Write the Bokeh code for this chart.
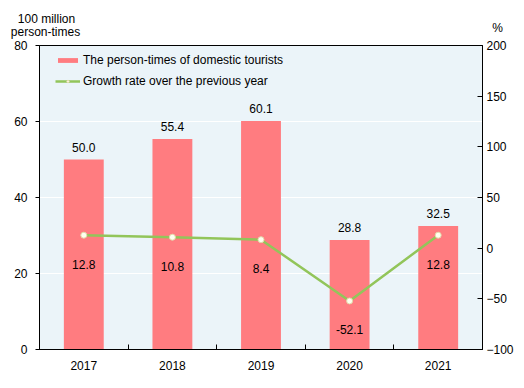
from bokeh.plotting import figure
from bokeh.models import (Range1d, LinearAxis, FixedTicker, ColumnDataSource,
                          LabelSet, Legend, LegendItem)
from bokeh.layouts import column
from bokeh.core.properties import value
from bokeh.embed import file_html
from bokeh.resources import INLINE

years = [2017, 2018, 2019, 2020, 2021]
tourists = [50.0, 55.4, 60.1, 28.8, 32.5]
growth = [12.8, 10.8, 8.4, -52.1, 12.8]
left_ticks = [0, 20, 40, 60, 80]
right_ticks = [-100, -50, 0, 50, 100, 150, 200]
left_title = ["100 million", "person-times"]
right_title = "%"

FONT = "Liberation Sans"
FS = "12px"
BAR = "#FF7C80"
LINE = "#92C55A"
BG = "#EBF4F9"
W = 516
HEAD_H = 40

# ---- header strip carrying the axis titles ----
head = figure(width=W, height=HEAD_H, output_backend="svg", toolbar_location=None,
              x_range=Range1d(0, W), y_range=Range1d(HEAD_H, 0),
              x_axis_type=None, y_axis_type=None, min_border=0)
head.outline_line_color = None
head.background_fill_color = "white"
head.border_fill_color = "white"
head.text(x=[46, 45, 497], y=[18, 31, 27],
          text=[left_title[0], left_title[1], right_title],
          text_align="center", text_baseline="alphabetic",
          text_font=value(FONT), text_font_size=value(FS), text_color="black")

# ---- main chart ----
src = ColumnDataSource(dict(
    year=years, t=tourists, g=growth,
    tlab=[f"{v:.1f}" for v in tourists],
    glab=[f"{v:.1f}" for v in growth],
))

p = figure(width=W, height=340, output_backend="svg", toolbar_location=None,
           x_range=Range1d(2016.5, 2021.5), y_range=Range1d(0, 80),
           min_border_left=39, min_border_right=33, min_border_top=5,
           min_border_bottom=31)
p.background_fill_color = BG
p.border_fill_color = "white"
p.outline_line_color = "black"
p.outline_line_width = 1

for fig in (head, p):
    try:
        fig.frame_align = False
    except Exception:
        pass

p.extra_y_ranges = {"g": Range1d(-100, 200)}

# x axis
p.xaxis.ticker = FixedTicker(ticks=years, minor_ticks=[y + 0.5 for y in years[:-1]])
p.xaxis.major_tick_line_color = None
p.xaxis.minor_tick_line_color = "black"
p.xaxis.minor_tick_in = 5
p.xaxis.minor_tick_out = 0
p.xaxis.major_label_standoff = 5
p.xgrid.visible = False

# left axis
p.yaxis.ticker = FixedTicker(ticks=left_ticks)
p.yaxis.major_tick_in = 0
p.yaxis.major_tick_out = 4
p.yaxis.minor_tick_line_color = None
p.yaxis.major_label_standoff = 8
p.ygrid.grid_line_color = "white"
p.ygrid.ticker = FixedTicker(ticks=left_ticks)

# right axis
raxis = LinearAxis(y_range_name="g", ticker=FixedTicker(ticks=right_ticks))
raxis.major_tick_in = 5
raxis.major_tick_out = 0
raxis.minor_tick_line_color = None
raxis.major_label_standoff = 4
p.add_layout(raxis, "right")

for ax in [p.xaxis[0], p.yaxis[0], raxis]:
    ax.major_label_text_font = FONT
    ax.major_label_text_font_size = FS
    ax.major_label_text_color = "black"
    ax.axis_line_color = "black"

bars = p.vbar(x="year", top="t", width=0.45, source=src, fill_color=BAR, line_color=None)
ln = p.line(x="year", y="g", y_range_name="g", source=src, line_color=LINE, line_width=2.5)
sc = p.scatter(x="year", y="g", y_range_name="g", source=src, size=6,
               fill_color="#FFFFF0", line_color="#E2D9A8", line_width=1)

p.add_layout(LabelSet(x="year", y="t", text="tlab", source=src, y_offset=8,
                      text_align="center", text_baseline="bottom",
                      text_font=value(FONT), text_font_size=value(FS),
                      text_color="black"))
p.add_layout(LabelSet(x="year", y="g", y_range_name="g", text="glab", source=src,
                      y_offset=-29, text_align="center", text_baseline="middle",
                      text_font=value(FONT), text_font_size=value(FS),
                      text_color="black"))

legend = Legend(items=[
    LegendItem(label="The person-times of domestic tourists", renderers=[bars]),
    LegendItem(label="Growth rate over the previous year", renderers=[ln, sc]),
], location=(16, 260), background_fill_alpha=0, border_line_color=None,
    glyph_width=25, glyph_height=6, label_height=16, spacing=5, padding=0, margin=0,
    label_standoff=3, label_text_font=FONT, label_text_font_size=FS,
    label_text_color="black")
p.add_layout(legend)

layout = column(head, p, spacing=0)
open("out.html", "w").write(file_html(layout, INLINE))
